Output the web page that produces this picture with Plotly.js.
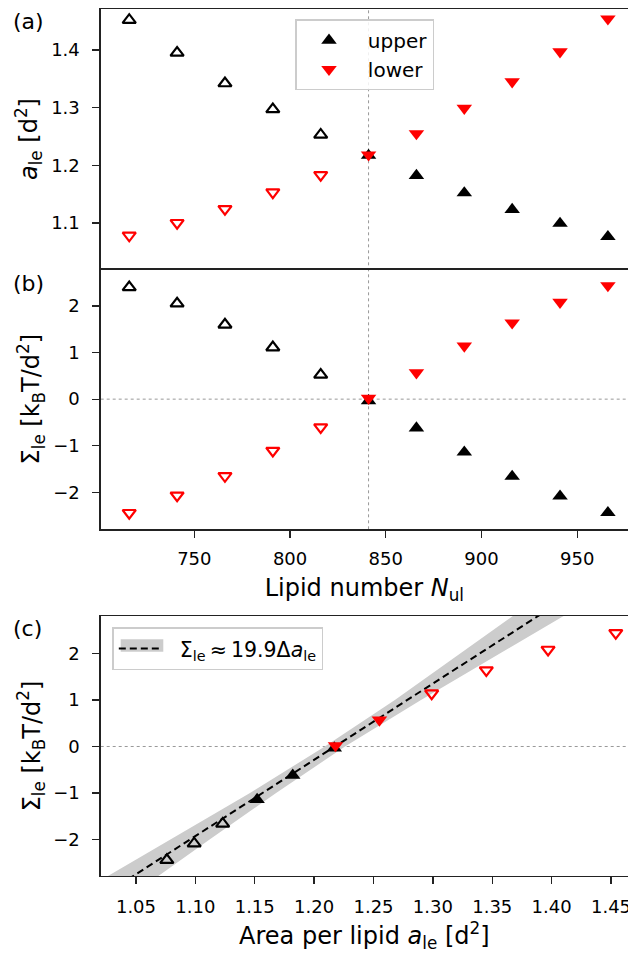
<!DOCTYPE html>
<html>
<head>
<meta charset="utf-8">
<script src="https://cdn.plot.ly/plotly-3.0.1.min.js"></script>
<style>html,body{margin:0;padding:0;background:#fff;overflow:hidden}</style>
</head>
<body>
<div id="chart" style="width:628px;height:953px"></div>
<script>
// ---- data ----
const lipidN     = [716, 741, 766, 791, 816, 841, 866, 891, 916, 941, 966];
const areaUpper  = [1.452, 1.395, 1.342, 1.297, 1.253, 1.217, 1.182, 1.152, 1.123, 1.099, 1.076];
const areaLower  = [1.078, 1.100, 1.124, 1.153, 1.183, 1.218, 1.255, 1.299, 1.345, 1.397, 1.454];
const sigmaUpper = [2.405, 2.054, 1.601, 1.112, 0.524, -0.035, -0.62, -1.14, -1.66, -2.085, -2.44];
const sigmaLower = [-2.444, -2.069, -1.653, -1.107, -0.603, 0.02, 0.57, 1.143, 1.64, 2.083, 2.44];
const crossN = 841;                       // equal-number point (dotted line)
// panel (c): which of the N >= crossN points are drawn filled (used in fit)
const fitUsedUpper = [true, true, true, false, false, false];
const fitUsedLower = [true, true, false, false, false, false];
// fitted line and its confidence band
const fitSlope = 16.4, fitA0 = 1.2175;
const fitLineArea = [1.02, 1.42];
const bandSigma = [-3, -2, -1, 0, 1, 2, 3];
const bandLeft  = [1.012, 1.079, 1.146, 1.209, 1.268, 1.323, 1.378];
const bandRight = [1.057, 1.112, 1.168, 1.226, 1.290, 1.356, 1.423];
const fitLabel = 'Σ<sub>le</sub>\u2009≈\u200919.9Δ<i>a</i><sub>le</sub>';

// ---- helpers ----
const W = 628, H = 953;
const px = v => v / W;
const py = v => 1 - v / H;
const pick = (arr, mask) => arr.filter((_, i) => mask[i]);
const openA = lipidN.map(n => n < crossN);
const fillA = lipidN.map(n => n >= crossN);
const notArr = m => m.map(v => !v);

const sizeFilled = 13.5, sizeOpen = 11.5;
function mk(symbol, color, open) {
  return open ? {symbol: symbol + '-open', color: color, size: sizeOpen, line: {width: 2.2, color: color}}
              : {symbol: symbol, color: color, size: sizeFilled, line: {width: 0}};
}

const traces = [];
// panel (a)
traces.push({x: pick(lipidN, openA), y: pick(areaUpper, openA), xaxis: 'x', yaxis: 'y', mode: 'markers', marker: mk('triangle-up', 'black', true), showlegend: false, cliponaxis: false});
traces.push({x: pick(lipidN, openA), y: pick(areaLower, openA), xaxis: 'x', yaxis: 'y', mode: 'markers', marker: mk('triangle-down', 'red', true), showlegend: false, cliponaxis: false});
traces.push({x: pick(lipidN, fillA), y: pick(areaUpper, fillA), xaxis: 'x', yaxis: 'y', mode: 'markers', marker: mk('triangle-up', 'black', false), name: '\u00a0upper', legend: 'legend', cliponaxis: false});
traces.push({x: pick(lipidN, fillA), y: pick(areaLower, fillA), xaxis: 'x', yaxis: 'y', mode: 'markers', marker: mk('triangle-down', 'red', false), name: '\u00a0lower', legend: 'legend', cliponaxis: false});
// panel (b)
traces.push({x: pick(lipidN, openA), y: pick(sigmaUpper, openA), xaxis: 'x2', yaxis: 'y2', mode: 'markers', marker: mk('triangle-up', 'black', true), showlegend: false, cliponaxis: false});
traces.push({x: pick(lipidN, openA), y: pick(sigmaLower, openA), xaxis: 'x2', yaxis: 'y2', mode: 'markers', marker: mk('triangle-down', 'red', true), showlegend: false, cliponaxis: false});
traces.push({x: pick(lipidN, fillA), y: pick(sigmaUpper, fillA), xaxis: 'x2', yaxis: 'y2', mode: 'markers', marker: mk('triangle-up', 'black', false), showlegend: false, cliponaxis: false});
traces.push({x: pick(lipidN, fillA), y: pick(sigmaLower, fillA), xaxis: 'x2', yaxis: 'y2', mode: 'markers', marker: mk('triangle-down', 'red', false), showlegend: false, cliponaxis: false});
// panel (c)
traces.push({x: bandLeft.concat(bandRight.slice().reverse()), y: bandSigma.concat(bandSigma.slice().reverse()),
  xaxis: 'x3', yaxis: 'y3', mode: 'lines', fill: 'toself', fillcolor: '#cccccc', line: {width: 0, color: '#cccccc'}, showlegend: false, hoverinfo: 'skip'});
traces.push({x: fitLineArea, y: fitLineArea.map(a => fitSlope * (a - fitA0)), xaxis: 'x3', yaxis: 'y3', mode: 'lines',
  line: {color: 'black', width: 2, dash: '7px,4px'}, name: '\u00a0\u00a0' + fitLabel, legend: 'legend2'});
const aU = areaUpper.slice(5), sU = sigmaUpper.slice(5), aL = areaLower.slice(5), sL = sigmaLower.slice(5);
traces.push({x: pick(aU, notArr(fitUsedUpper)), y: pick(sU, notArr(fitUsedUpper)), xaxis: 'x3', yaxis: 'y3', mode: 'markers', marker: mk('triangle-up', 'black', true), showlegend: false, cliponaxis: false});
traces.push({x: pick(aU, fitUsedUpper), y: pick(sU, fitUsedUpper), xaxis: 'x3', yaxis: 'y3', mode: 'markers', marker: mk('triangle-up', 'black', false), showlegend: false, cliponaxis: false});
traces.push({x: pick(aL, fitUsedLower), y: pick(sL, fitUsedLower), xaxis: 'x3', yaxis: 'y3', mode: 'markers', marker: mk('triangle-down', 'red', false), showlegend: false, cliponaxis: false});
traces.push({x: pick(aL, notArr(fitUsedLower)), y: pick(sL, notArr(fitUsedLower)), xaxis: 'x3', yaxis: 'y3', mode: 'markers', marker: mk('triangle-down', 'red', true), showlegend: false, cliponaxis: false});

const axisCol = '#222';
const baseAx = {showline: true, linecolor: axisCol, linewidth: 1.3, showgrid: false, zeroline: false,
  ticks: 'outside', ticklen: 7, tickwidth: 1.3, tickcolor: axisCol, tickfont: {size: 18, color: 'black'}, ticklabeloverflow: 'allow'};
const titleFont = {size: 24, color: 'black'};
const xL = px(100.7);
const dA = [py(269), py(9)], dB = [py(529.3), py(269)], dC = [py(876), py(616)];
const xRangeN = [701.1, 976.5];

const layout = {
  width: W, height: H,
  margin: {l: 0, r: 0, t: 0, b: 0},
  paper_bgcolor: 'white', plot_bgcolor: 'white',
  font: {family: 'DejaVu Sans, sans-serif', size: 18, color: 'black'},
  showlegend: true,
  xaxis: Object.assign({}, baseAx, {domain: [xL, 1], range: xRangeN, anchor: 'y', mirror: true, ticks: '', showticklabels: false}),
  yaxis: Object.assign({}, baseAx, {domain: dA, range: [1.020, 1.471], anchor: 'x', dtick: 0.1, tick0: 1.0, tickformat: '.1f', ticklabelstandoff: 9,
    title: {text: '<i>a</i><sub>le</sub> [d<sup>2</sup>]', font: titleFont, standoff: 6}}),
  xaxis2: Object.assign({}, baseAx, {domain: [xL, 1], range: xRangeN, anchor: 'y2', mirror: true, dtick: 50, tick0: 750, ticklabelstandoff: 6,
    title: {text: 'Lipid number <i>N</i><sub>ul</sub>', font: titleFont, standoff: 11}}),
  yaxis2: Object.assign({}, baseAx, {domain: dB, range: [-2.797, 2.797], anchor: 'x2', dtick: 1, tick0: 0, ticklabelstandoff: 9,
    title: {text: 'Σ<sub>le</sub> [k<sub>B</sub>T/d<sup>2</sup>]', font: titleFont, standoff: 6}}),
  xaxis3: Object.assign({}, baseAx, {domain: [xL, 1], range: [1.0203, 1.4643], anchor: 'y3', mirror: true, dtick: 0.05, tick0: 1.0, tickformat: '.2f', ticklabelstandoff: 7,
    title: {text: 'Area per lipid <i>a</i><sub>le</sub> [d<sup>2</sup>]', font: titleFont, standoff: 12}}),
  yaxis3: Object.assign({}, baseAx, {domain: dC, range: [-2.785, 2.806], anchor: 'x3', dtick: 1, tick0: 0, ticklabelstandoff: 9,
    title: {text: 'Σ<sub>le</sub> [k<sub>B</sub>T/d<sup>2</sup>]', font: titleFont, standoff: 6}}),
  legend: {x: px(295), y: py(19.3), xanchor: 'left', yanchor: 'top', bgcolor: 'rgba(255,255,255,0.85)', bordercolor: '#cccccc', borderwidth: 1.5,
    font: {size: 20, color: 'black'}, itemwidth: 55, tracegroupgap: 0},
  legend2: {x: px(112.3), y: py(627.3), xanchor: 'left', yanchor: 'top', bgcolor: 'rgba(255,255,255,0)', bordercolor: '#cccccc', borderwidth: 1.5,
    font: {size: 20.5, color: 'black'}, itemwidth: 43},
  shapes: [
    {type: 'line', xref: 'x', yref: 'paper', x0: crossN, x1: crossN, y0: dB[0], y1: dA[1], line: {color: '#999', width: 1, dash: 'dot'}, layer: 'below'},
    {type: 'line', xref: 'x2 domain', yref: 'y2', x0: 0, x1: 1, y0: 0, y1: 0, line: {color: '#999', width: 1, dash: 'dot'}, layer: 'below'},
    {type: 'line', xref: 'x3 domain', yref: 'y3', x0: 0, x1: 1, y0: 0, y1: 0, line: {color: '#999', width: 1, dash: 'dot'}, layer: 'below'},
    {type: 'rect', xref: 'paper', yref: 'paper', x0: px(120.7), x1: px(163.3), y0: py(651.7), y1: py(639.3), fillcolor: '#cccccc', line: {width: 0}, layer: 'above'}
  ],
  annotations: [
    {text: '(a)', xref: 'paper', yref: 'paper', x: px(11), y: py(7), xanchor: 'left', yanchor: 'top', showarrow: false, font: {size: 22, color: 'black'}},
    {text: '(b)', xref: 'paper', yref: 'paper', x: px(11), y: py(269), xanchor: 'left', yanchor: 'top', showarrow: false, font: {size: 22, color: 'black'}},
    {text: '(c)', xref: 'paper', yref: 'paper', x: px(11), y: py(614), xanchor: 'left', yanchor: 'top', showarrow: false, font: {size: 22, color: 'black'}}
  ]
};

Plotly.newPlot('chart', traces, layout, {displayModeBar: false, staticPlot: true});
</script>
</body>
</html>
